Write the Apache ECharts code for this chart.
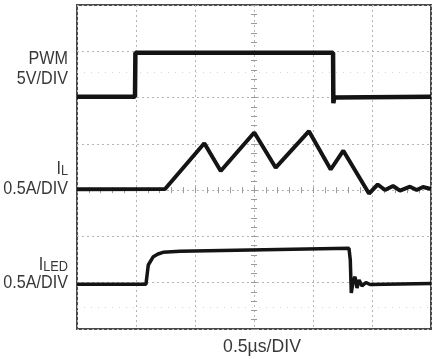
<!DOCTYPE html>
<html>
<head>
<meta charset="utf-8">
<script src="https://cdn.jsdelivr.net/npm/echarts@6/dist/echarts.min.js"></script>
<style>
html,body{margin:0;padding:0;background:#fff;}
#c{width:435px;height:359px;}
</style>
</head>
<body>
<div id="c"></div>
<script>
// Time axis in divisions (0.5 µs/DIV), vertical axis in divisions
const pwmT = [0, 0.983, 0.99, 4.34, 4.345, 4.36, 6];
const pwmV = [5.02, 5.02, 5.97, 5.97, 4.88, 5.0, 5.02];

const ilT = [0, 1.492, 2.158, 2.436, 3.005, 3.368, 3.932, 4.3, 4.514, 4.949, 5.097, 5.22, 5.356, 5.475, 5.644, 5.758, 5.864, 6];
const ilV = [3.02, 3.024, 4.012, 3.413, 4.245, 3.485, 4.273, 3.446, 3.852, 2.927, 3.122, 3.003, 3.089, 2.988, 3.074, 3.003, 3.067, 3.024];

const iledT = [0, 1.169, 1.208, 1.293, 1.373, 1.458, 1.746, 2.932, 4.61, 4.632, 4.649, 4.678, 4.712, 4.746, 4.78, 4.83, 4.898, 4.966, 6];
const iledV = [0.966, 0.966, 1.383, 1.562, 1.62, 1.657, 1.681, 1.707, 1.743, 1.49, 0.778, 1.015, 1.13, 0.886, 1.059, 0.929, 1.005, 0.961, 0.983];

const markerLevels = [5.55, 0.46];

const xDivs = 6, yDivs = 7;

function zip(a, b) { return a.map((v, i) => [v, b[i]]); }

const chart = echarts.init(document.getElementById('c'), null, {renderer: 'canvas'});

const FONT = "'Liberation Sans', Arial, sans-serif";
const TXT = '#383838';
const GL = 77, GT = 5, GR = 4, GB = 30;
const gw = 435 - GL - GR, gh = 359 - GT - GB;

function centerAxisX(inside) {
  return {
    type: 'value', min: 0, max: xDivs, interval: 1,
    position: 'bottom', offset: -gh * 3 / yDivs,
    axisLine: {show: false}, axisLabel: {show: false}, splitLine: {show: false},
    axisTick: {show: true, inside: inside, length: 3, lineStyle: {color: '#9a9a9a'}},
    minorTick: {show: true, splitNumber: 5, length: 3, lineStyle: {color: '#9a9a9a'}}
  };
}
function centerAxisY(inside) {
  return {
    type: 'value', min: 0, max: yDivs, interval: 1,
    position: 'left', offset: -gw * 3 / xDivs,
    axisLine: {show: false}, axisLabel: {show: false}, splitLine: {show: false},
    axisTick: {show: true, inside: inside, length: 3, lineStyle: {color: '#9a9a9a'}},
    minorTick: {show: true, splitNumber: 5, length: 3, lineStyle: {color: '#9a9a9a'}}
  };
}

const traceColor = '#141414';

function label(text, x, y, size, sx, align) {
  return {
    type: 'text', x: x, y: y, scaleX: sx,
    style: {text: text, font: size + 'px ' + FONT, fill: TXT, textAlign: align || 'right', textVerticalAlign: 'middle'}
  };
}
function subLabel(main, sub, x, y, sx) {
  return {
    type: 'text', x: x, y: y, scaleX: sx,
    style: {
      text: '{m|' + main + '}{s|' + sub + '}', fill: TXT, textAlign: 'right', textVerticalAlign: 'middle',
      rich: {m: {font: '19px ' + FONT, fill: TXT, lineHeight: 20, verticalAlign: 'bottom'},
             s: {font: '15px ' + FONT, fill: TXT, lineHeight: 12, verticalAlign: 'bottom'}}
    }
  };
}

chart.setOption({
  animation: false,
  backgroundColor: '#ffffff',
  grid: {left: GL, top: GT, right: GR, bottom: GB, show: true, borderColor: '#4a4a4a', borderWidth: 2, outerBoundsMode: 'none', containLabel: false},
  xAxis: [
    {
      type: 'value', min: 0, max: xDivs, interval: 1,
      axisLine: {show: false}, axisTick: {show: false}, axisLabel: {show: false},
      splitLine: {show: true, lineStyle: {color: '#b4b4b4', width: 1, type: [2, 3]}}
    },
    centerAxisX(true), centerAxisX(false)
  ],
  yAxis: [
    {
      type: 'value', min: 0, max: yDivs, interval: 1,
      axisLine: {show: false}, axisTick: {show: false}, axisLabel: {show: false},
      splitLine: {show: true, lineStyle: {color: '#b4b4b4', width: 1, type: [2, 3]}}
    },
    centerAxisY(true), centerAxisY(false)
  ],
  series: [
    {
      type: 'line', name: 'PWM', data: zip(pwmT, pwmV), symbol: 'none',
      lineStyle: {color: traceColor, width: 4.5}, z: 5,
      markLine: {
        silent: true, symbol: 'none', label: {show: false},
        lineStyle: {color: '#d6d6d6', type: [1, 6], width: 1},
        data: markerLevels.map(v => ({yAxis: v}))
      }
    },
    {
      type: 'line', name: 'IL', data: zip(ilT, ilV), symbol: 'none',
      lineStyle: {color: traceColor, width: 4}, z: 5
    },
    {
      type: 'line', name: 'ILED', data: zip(iledT, iledV), symbol: 'none',
      lineStyle: {color: traceColor, width: 3.5}, z: 5
    }
  ],
  graphic: [
    label('PWM', 68, 59, 19, 0.85),
    label('5V/DIV', 68, 79, 19, 0.85),
    subLabel('I', 'L', 68, 168, 0.85),
    label('0.5A/DIV', 68, 188.5, 19, 0.85),
    subLabel('I', 'LED', 68, 264, 0.85),
    label('0.5A/DIV', 68, 282.5, 19, 0.85),
    label('0.5µs/DIV', 262, 347.5, 18, 0.98, 'center')
  ]
});
</script>
</body>
</html>
